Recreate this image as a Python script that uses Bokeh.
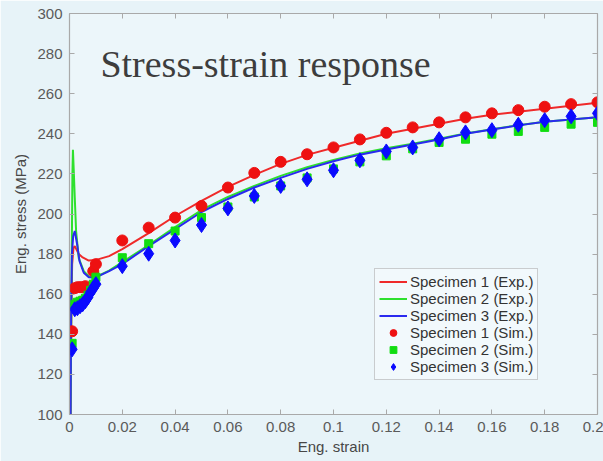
from bokeh.plotting import figure
from bokeh.models import (Range1d, LinearAxis, FixedTicker, Legend, LegendItem, Label)
from bokeh.embed import file_html
from bokeh.resources import INLINE

# ---------------- data ----------------
x_ticks = [0, 0.02, 0.04, 0.06, 0.08, 0.1, 0.12, 0.14, 0.16, 0.18, 0.2]
x_tick_labels = ["0", "0.02", "0.04", "0.06", "0.08", "0.1", "0.12", "0.14", "0.16", "0.18", "0.2"]
y_ticks = [100, 120, 140, 160, 180, 200, 220, 240, 260, 280, 300]

exp1_strain = [0.0004, 0.0007, 0.001, 0.0015, 0.002, 0.0035, 0.0048, 0.0073, 0.0098, 0.015, 0.02,
               0.03, 0.04, 0.05, 0.06, 0.07, 0.08, 0.09, 0.10, 0.11, 0.12, 0.13, 0.14, 0.15,
               0.16, 0.17, 0.18, 0.19, 0.20]
exp1_stress = [100, 150, 175, 183, 184, 180, 178.5, 176.8, 177, 179, 182.5,
               190.5, 199, 206.5, 213.5, 219.5, 225, 229.5, 233, 236.5, 240, 242.5, 245, 247.5,
               249.5, 251, 252.5, 254, 255.5]

exp2_strain = [0.0004, 0.0008, 0.0011, 0.0013, 0.0016, 0.002, 0.0025, 0.0035, 0.0054, 0.0073, 0.0098,
               0.015, 0.02, 0.03, 0.04, 0.05, 0.06, 0.07, 0.08, 0.09, 0.10, 0.11, 0.12, 0.13,
               0.14, 0.15, 0.16, 0.17, 0.18, 0.19, 0.20]
exp2_stress = [100, 170, 220, 232, 222, 208, 191.5, 178, 171.5, 169, 168.5,
               171.8, 176, 184.5, 193.5, 202, 208.5, 214, 219, 223.3, 227, 230.2, 232.8, 235,
               237.5, 240.2, 242.3, 244.3, 246, 247.1, 248.3]

exp3_strain = [0.0004, 0.0006, 0.0009, 0.0014, 0.002, 0.0029, 0.0038, 0.0054, 0.0073, 0.009, 0.011,
               0.015, 0.02, 0.03, 0.04, 0.05, 0.06, 0.07, 0.08, 0.09, 0.10, 0.11, 0.12, 0.13,
               0.14, 0.15, 0.16, 0.17, 0.18, 0.19, 0.20]
exp3_stress = [100, 150, 180, 189, 191.5, 184.8, 176.5, 170.7, 168.5, 168.3, 169,
               171.5, 175, 184, 192.5, 201, 207.5, 213.2, 218, 222.5, 226.3, 229.6, 232.2, 234.7,
               237.2, 240, 242.2, 244.2, 246, 247.1, 248.2]

sim1_strain = [0.001, 0.002, 0.003, 0.004, 0.005, 0.006, 0.009, 0.01,
               0.02, 0.03, 0.04, 0.05, 0.06, 0.07, 0.08, 0.09, 0.10, 0.11, 0.12, 0.13,
               0.14, 0.15, 0.16, 0.17, 0.18, 0.19, 0.20]
sim1_stress = [141.5, 163, 163.5, 163.5, 163.5, 164, 171.5, 175,
               186.8, 193.2, 198.2, 204, 213.2, 220.5, 226, 229.8, 233.2, 237.2, 240.5, 243.2,
               245.7, 248.2, 250.2, 251.8, 253.5, 254.8, 255.7]

sim2_strain = [0.001, 0.002, 0.003, 0.004, 0.005, 0.006, 0.007, 0.008, 0.009, 0.01,
               0.02, 0.03, 0.04, 0.05, 0.06, 0.07, 0.08, 0.09, 0.10, 0.11, 0.12, 0.13,
               0.14, 0.15, 0.16, 0.17, 0.18, 0.19, 0.20]
sim2_stress = [135.5, 155, 156, 156.5, 157, 158, 159.5, 162, 165, 168.5,
               178.2, 185.2, 191.5, 198.2, 203.5, 208.5, 214, 218, 222.5, 226, 229, 232.5,
               235.7, 237.3, 239.8, 241.2, 243.2, 244.8, 245.7]

sim3_strain = [0.001, 0.002, 0.003, 0.004, 0.005, 0.006, 0.007, 0.008, 0.009, 0.01,
               0.02, 0.03, 0.04, 0.05, 0.06, 0.07, 0.08, 0.09, 0.10, 0.11, 0.12, 0.13,
               0.14, 0.15, 0.16, 0.17, 0.18, 0.19, 0.20]
sim3_stress = [132.5, 152.5, 153, 154, 155, 156.5, 158.5, 161, 163, 165,
               174, 180.2, 186.8, 194.5, 202.8, 209, 214, 217.3, 221.8, 226.8, 231.2, 233.2,
               237.3, 240.7, 241.8, 244.5, 246.8, 248.7, 250.2]

labels = ["Specimen 1 (Exp.)", "Specimen 2 (Exp.)", "Specimen 3 (Exp.)",
          "Specimen 1 (Sim.)", "Specimen 2 (Sim.)", "Specimen 3 (Sim.)"]
title_text = "Stress-strain response"

# ---------------- figure ----------------
FONT = "Liberation Sans"
AXIS_COLOR = "#a9a9a9"

p = figure(width=603, height=461, output_backend="svg", toolbar_location=None,
           x_range=Range1d(0, 0.2), y_range=Range1d(100, 300),
           x_axis_location=None, y_axis_location=None,
           min_border_left=69, min_border_right=6, min_border_top=13, min_border_bottom=47)
p.background_fill_color = "#ecf6fa"
p.border_fill_color = "#e7f3f8"
p.outline_line_color = None
p.grid.visible = False

def style_axis(ax, show_labels):
    ax.axis_line_color = AXIS_COLOR
    ax.axis_line_width = 1.2
    ax.major_tick_line_color = AXIS_COLOR
    ax.major_tick_in = 5
    ax.major_tick_out = 0
    ax.minor_tick_line_color = None
    ax.major_label_text_font = FONT
    ax.major_label_text_color = "#5a5a5a"
    ax.axis_label_text_font = FONT
    ax.axis_label_text_font_style = "normal"
    ax.axis_label_text_color = "#474747"
    ax.axis_label_text_font_size = "15px"
    if show_labels:
        ax.major_label_text_font_size = "15px"
    else:
        ax.major_label_text_font_size = "0px"
        ax.major_label_standoff = 0

xb = LinearAxis(axis_label="Eng. strain", ticker=FixedTicker(ticks=x_ticks))
xb.major_label_overrides = {t: s for t, s in zip(x_ticks, x_tick_labels)}
style_axis(xb, True)
xb.major_label_standoff = 7
xb.axis_label_standoff = 3
p.add_layout(xb, "below")

yl = LinearAxis(axis_label="Eng. stress (MPa)", ticker=FixedTicker(ticks=y_ticks))
style_axis(yl, True)
yl.major_label_standoff = 7
yl.axis_label_standoff = 5
p.add_layout(yl, "left")

xt = LinearAxis(ticker=FixedTicker(ticks=x_ticks))
xt.major_label_overrides = {t: "" for t in x_ticks}
style_axis(xt, False)
p.add_layout(xt, "above")

yr = LinearAxis(ticker=FixedTicker(ticks=y_ticks))
yr.major_label_overrides = {t: "" for t in y_ticks}
style_axis(yr, False)
p.add_layout(yr, "right")

RED_L, GREEN_L, BLUE_L = "#ef2a2a", "#2ee02e", "#2a2aef"
RED_M, GREEN_M, BLUE_M = "#ee1111", "#11dd11", "#0a0aff"

l1 = p.line(exp1_strain, exp1_stress, line_color=RED_L, line_width=2)
l2 = p.line(exp2_strain, exp2_stress, line_color=GREEN_L, line_width=2)
l3 = p.line(exp3_strain, exp3_stress, line_color=BLUE_L, line_width=2)

m1 = p.scatter(sim1_strain, sim1_stress, marker="circle", size=11,
               fill_color=RED_M, line_color=RED_M)
m2 = p.scatter(sim2_strain, sim2_stress, marker="square", size=8,
               fill_color=GREEN_M, line_color=GREEN_M)
m3 = p.scatter(sim3_strain, sim3_stress, marker="diamond", size=15,
               fill_color=BLUE_M, line_color=BLUE_M)

p.add_layout(Label(x=0.0117, y=275, text=title_text, text_font="Liberation Serif",
                   text_font_size="38px", text_color="#3d3d3d", text_baseline="alphabetic"))

legend = Legend(items=[LegendItem(label=lab, renderers=[r]) for lab, r in
                       zip(labels, [l1, l2, l3, m1, m2, m3])],
                location=(305, 34))
legend.label_text_font = FONT
legend.label_text_font_size = "15px"
legend.label_text_color = "#333333"
legend.border_line_color = "#a0a0a0"
legend.background_fill_color = "#f2f9fc"
legend.background_fill_alpha = 1
legend.padding = 4
legend.spacing = 0
legend.margin = 0
legend.label_height = 17
legend.glyph_height = 17
legend.glyph_width = 28
legend.label_standoff = 3
p.add_layout(legend)

open("out.html", "w").write(file_html(p, INLINE))
